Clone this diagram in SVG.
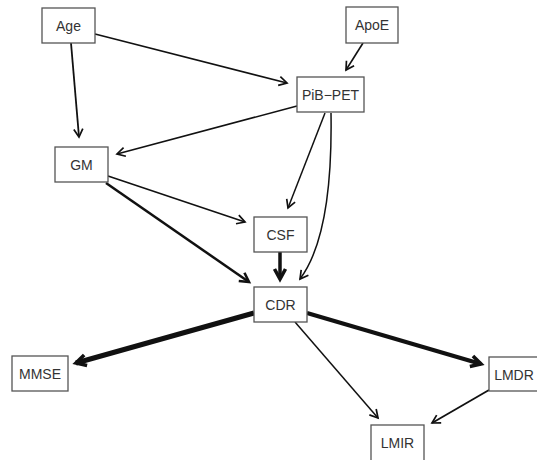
<svg xmlns="http://www.w3.org/2000/svg" width="537" height="460" viewBox="0 0 537 460">
<defs>
<style>
.n rect{fill:#fff;stroke:#555;stroke-width:1.3}
.n text{font-family:"Liberation Sans",Arial,sans-serif;font-size:14px;fill:#333;text-anchor:middle}
.e path{fill:none;stroke:#111;stroke-linecap:butt}
</style>
<marker id="a" markerUnits="userSpaceOnUse" viewBox="0 0 14 14" markerWidth="14" markerHeight="14" refX="11" refY="7" orient="auto">
<path d="M3,2.5 L11,7 L3,11.5" fill="none" stroke="#111" stroke-width="1.7" stroke-linejoin="miter"/>
</marker>
<marker id="b" markerUnits="userSpaceOnUse" viewBox="0 0 16 16" markerWidth="16" markerHeight="16" refX="12" refY="8" orient="auto">
<path d="M3,3 L12,8 L3,13" fill="none" stroke="#111" stroke-width="2.6" stroke-linejoin="miter"/>
</marker>
<marker id="c" markerUnits="userSpaceOnUse" viewBox="0 0 18 18" markerWidth="18" markerHeight="18" refX="13" refY="9" orient="auto">
<path d="M3,3.5 L13,9 L3,14.5" fill="none" stroke="#111" stroke-width="3.6" stroke-linejoin="miter"/>
</marker>
</defs>
<rect width="537" height="460" fill="#fff"/>
<g id="edges" class="e">
<path d="M95,34 L287,83" stroke-width="1.6" marker-end="url(#a)"/>
<path d="M71,43 L79,137" stroke-width="1.8" marker-end="url(#a)"/>
<path d="M363,43 L346,70" stroke-width="1.6" marker-end="url(#a)"/>
<path d="M297,106 L117,154" stroke-width="1.6" marker-end="url(#a)"/>
<path d="M325,113 L288,208" stroke-width="1.5" marker-end="url(#a)"/>
<path d="M331,113 Q333,235 300,279" stroke-width="1.5" marker-end="url(#a)"/>
<path d="M108,176 L245,222" stroke-width="1.6" marker-end="url(#a)"/>
<path d="M106,183 L249,282" stroke-width="2.5" marker-end="url(#b)"/>
<path d="M280,252 L280,279" stroke-width="3.5" marker-end="url(#c)"/>
<path d="M254,313 L76,363" stroke-width="5" marker-end="url(#c)"/>
<path d="M307,313 L481,364" stroke-width="4" marker-end="url(#c)"/>
<path d="M295,322 L378,418" stroke-width="1.5" marker-end="url(#a)"/>
<path d="M489,390 L432,423" stroke-width="1.8" marker-end="url(#a)"/>
</g>
<g id="Age" class="n"><rect x="42" y="8" width="53" height="35"/><text x="68.5" y="30.5">Age</text></g>
<g id="ApoE" class="n"><rect x="346" y="7" width="52" height="36"/><text x="372" y="30">ApoE</text></g>
<g id="PiB-PET" class="n"><rect x="297" y="77" width="67" height="35"/><text x="330.5" y="99.5">PiB−PET</text></g>
<g id="GM" class="n"><rect x="55" y="147" width="53" height="35"/><text x="81.5" y="169.5">GM</text></g>
<g id="CSF" class="n"><rect x="254" y="217" width="53" height="35"/><text x="280.5" y="239.5">CSF</text></g>
<g id="CDR" class="n"><rect x="254" y="287" width="53" height="35"/><text x="280.5" y="309.5">CDR</text></g>
<g id="MMSE" class="n"><rect x="12" y="356" width="56" height="35"/><text x="40" y="378.5">MMSE</text></g>
<g id="LMDR" class="n"><rect x="489" y="357" width="52" height="34"/><text x="514" y="379.5">LMDR</text></g>
<g id="LMIR" class="n"><rect x="371" y="425" width="53" height="37"/><text x="397.5" y="448">LMIR</text></g>
</svg>
